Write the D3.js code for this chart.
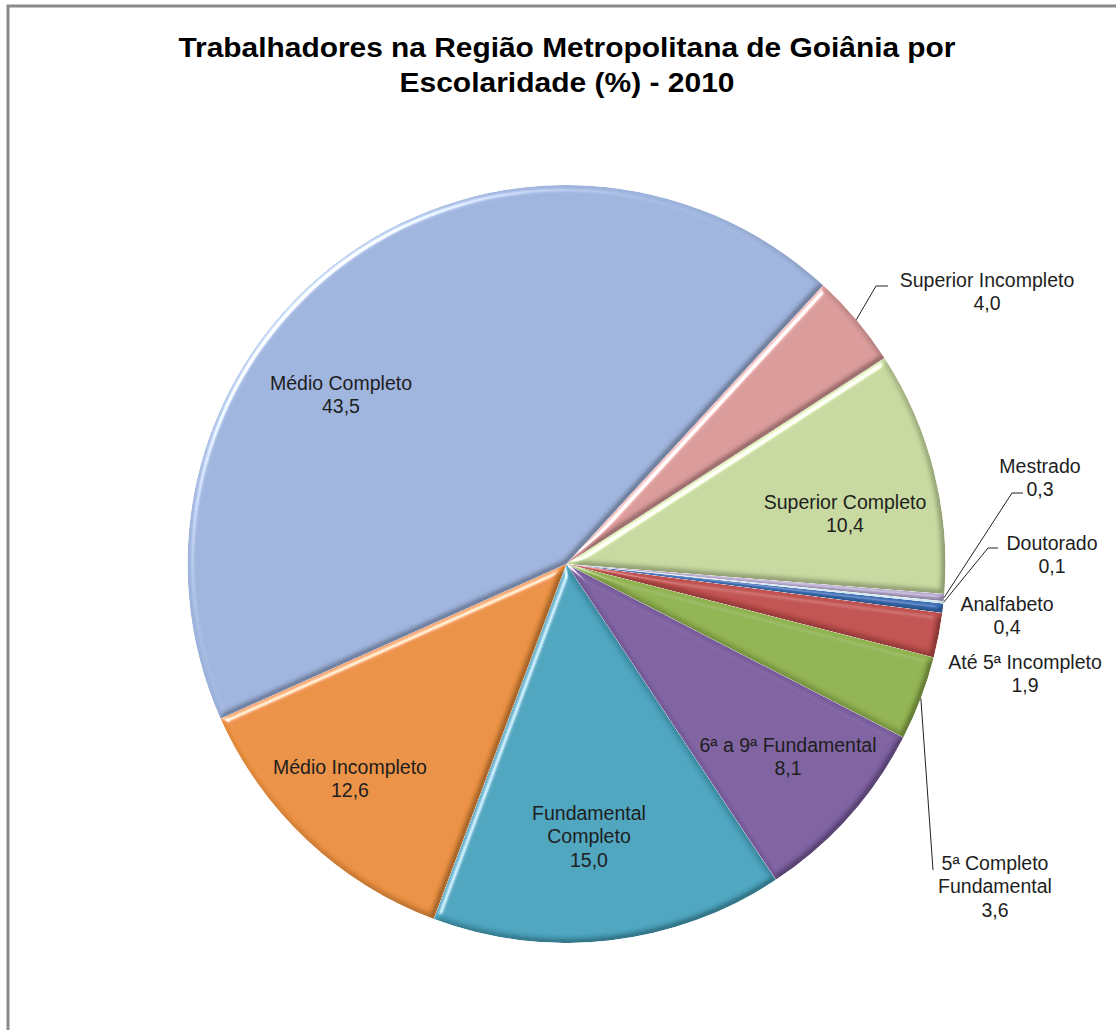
<!DOCTYPE html>
<html>
<head>
    <meta charset="utf-8">
    <style>
        body { margin: 0; background: white; }
        svg { display: block; font-family: 'Liberation Sans', Arial, sans-serif; }
        .lbl { font-size: 19.5px; fill: #1e1e1e; }
        .title { font-size: 27px; font-weight: bold; fill: #000; }
    </style>
</head>
<body>
    <svg width="1116" height="1030" id="chart"></svg>
</body>
<script src="https://d3js.org/d3.v7.min.js"></script>
<script>

    // data, in the order Excel draws the slices (clockwise)
    let categorias = ["Analfabeto", "Até 5ª Incompleto", "5ª Completo Fundamental", "6ª a 9ª Fundamental",
        "Fundamental Completo", "Médio Incompleto", "Médio Completo", "Superior Incompleto",
        "Superior Completo", "Mestrado", "Doutorado"]
    let valores = [0.4, 1.9, 3.6, 8.1, 15.0, 12.6, 43.5, 4.0, 10.4, 0.3, 0.1]
    let cores = ["#3b6fb5", "#c0504d", "#90b250", "#7d5fa0", "#4aa3bd", "#e98f3f",
        "#9eb3dc", "#d99a99", "#c6d89e", "#b7aace", "#d3e9f1"]
    let titulo = ["Trabalhadores na Região Metropolitana de Goiânia por", "Escolaridade (%) - 2010"]

    let width = 1116, height = 1030
    let cx = 566.5, cy = 564, r = 379
    let svg = d3.select("#chart")

    // frame (only left and top edges show in the picture)
    svg.append("path")
        .attr("d", "M8,1030 V6 H1116")
        .attr("fill", "none")
        .attr("stroke", "#8a8a8a")
        .attr("stroke-width", 3)

    // title
    let tw = [777, 335]
    svg.selectAll(".title")
        .data(titulo)
        .join("text")
        .attr("class", "title")
        .attr("x", 567)
        .attr("y", (d, i) => 57 + i * 35)
        .attr("text-anchor", "middle")
        .attr("textLength", (d, i) => tw[i])
        .attr("lengthAdjust", "spacingAndGlyphs")
        .text(d => d)

    // soft bevel like excel: multiply shade + white specular highlight
    let defs = svg.append("defs")
    let f = defs.append("filter").attr("id", "bevel")
        .attr("x", "-5%").attr("y", "-5%").attr("width", "110%").attr("height", "110%")
    f.append("feGaussianBlur").attr("in", "SourceAlpha").attr("stdDeviation", 3).attr("result", "blur")
    f.append("feDiffuseLighting").attr("in", "blur").attr("surfaceScale", 6)
        .attr("diffuseConstant", 1.42).attr("lighting-color", "white").attr("result", "sombra")
        .append("feDistantLight").attr("azimuth", 225).attr("elevation", 45)
    f.append("feSpecularLighting").attr("in", "blur").attr("surfaceScale", 6)
        .attr("specularConstant", 1.2).attr("specularExponent", 22)
        .attr("lighting-color", "white").attr("result", "brilho")
        .append("feDistantLight").attr("azimuth", 225).attr("elevation", 22)
    f.append("feComposite").attr("in", "SourceGraphic").attr("in2", "sombra")
        .attr("operator", "arithmetic").attr("k1", 0.5).attr("k2", 0.5).attr("k3", 0).attr("k4", 0)
        .attr("result", "sombreado")
    f.append("feComposite").attr("in", "sombreado").attr("in2", "brilho")
        .attr("operator", "arithmetic").attr("k1", 0).attr("k2", 1).attr("k3", 0.8).attr("k4", 0)
        .attr("result", "lit")
    f.append("feComposite").attr("in", "lit").attr("in2", "SourceAlpha").attr("operator", "in")

    let dados = categorias.map((c, i) => ({ nome: c, valor: valores[i], cor: cores[i] }))

    let start = 96 * Math.PI / 180
    let pie = d3.pie().sort(null).value(d => d.valor)
        .startAngle(start).endAngle(start + 2 * Math.PI)
    let arcs = pie(dados)
    let arc = d3.arc().innerRadius(0).outerRadius(r)

    let g = svg.append("g").attr("transform", `translate(${cx},${cy})`)

    g.selectAll("path.fatia")
        .data(arcs)
        .join("path")
        .attr("class", "fatia")
        .attr("d", arc)
        .attr("fill", d => d.data.cor)
        .attr("filter", "url(#bevel)")

    // label layout (absolute page positions) and leader bends
    let layout = {
        "Médio Completo": { x: 341, y: 383, linhas: ["Médio Completo"] },
        "Superior Completo": { x: 845, y: 502, linhas: ["Superior Completo"] },
        "Médio Incompleto": { x: 350, y: 767, linhas: ["Médio Incompleto"] },
        "Fundamental Completo": { x: 589, y: 813, linhas: ["Fundamental", "Completo"] },
        "6ª a 9ª Fundamental": { x: 788, y: 745, linhas: ["6ª a 9ª Fundamental"] },
        "Superior Incompleto": { x: 987, y: 280, linhas: ["Superior Incompleto"], guia: [[876, 286], [888, 286]] },
        "Mestrado": { x: 1040, y: 466, linhas: ["Mestrado"], guia: [[1012, 493], [1023, 493]] },
        "Doutorado": { x: 1052, y: 543, linhas: ["Doutorado"], guia: [[988, 548], [998, 548]] },
        "Analfabeto": { x: 1007, y: 604, linhas: ["Analfabeto"] },
        "Até 5ª Incompleto": { x: 1025, y: 662, linhas: ["Até 5ª Incompleto"] },
        "5ª Completo Fundamental": { x: 995, y: 863, linhas: ["5ª Completo", "Fundamental"], guia: [[933, 870]] }
    }
    let fmt = v => d3.format(".1f")(v).replace(".", ",")

    // leader lines
    arcs.forEach(a => {
        let L = layout[a.data.nome]
        if (!L.guia) return
        let m = (a.startAngle + a.endAngle) / 2
        let p0 = [cx + r * Math.sin(m), cy - r * Math.cos(m)]
        svg.append("path")
            .attr("d", d3.line()([p0].concat(L.guia)))
            .attr("fill", "none")
            .attr("stroke", "#222")
            .attr("stroke-width", 1)
    })

    // labels
    arcs.forEach(a => {
        let L = layout[a.data.nome]
        let linhas = L.linhas.concat([fmt(a.data.valor)])
        let t = svg.append("text")
            .attr("class", "lbl")
            .attr("text-anchor", "middle")
        linhas.forEach((s, i) => {
            t.append("tspan")
                .attr("x", L.x)
                .attr("y", L.y + i * 23.5)
                .attr("dy", "0.35em")
                .text(s)
        })
    })

</script>
</html>
